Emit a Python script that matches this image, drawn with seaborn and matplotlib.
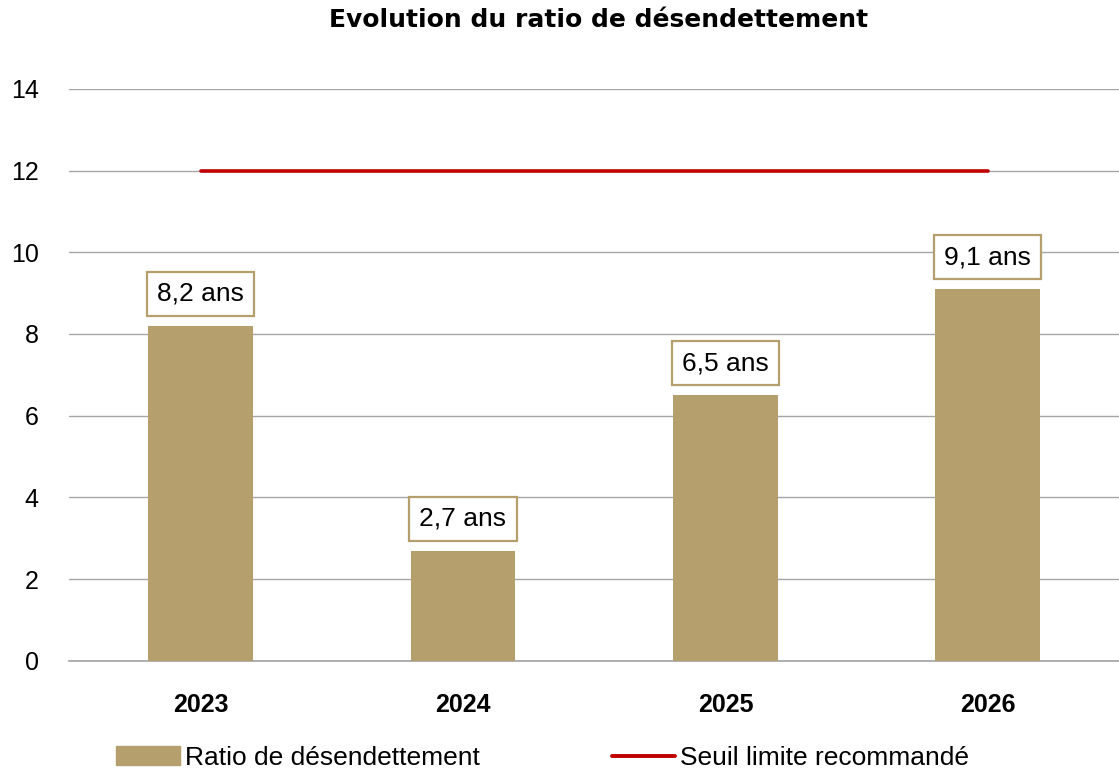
import pandas as pd
import matplotlib
import matplotlib.pyplot as plt
import seaborn as sns
from matplotlib.lines import Line2D
from matplotlib.patches import Patch
matplotlib.use('Agg')

# Données du graphique
annees = ['2023', '2024', '2025', '2026']
ratio = [8.2, 2.7, 6.5, 9.1]
seuil = [12, 12, 12, 12]
etiquettes = ['8,2 ans', '2,7 ans', '6,5 ans', '9,1 ans']

df = pd.DataFrame({'Annee': annees, 'Ratio': ratio, 'Seuil': seuil})

or_couleur = '#B5A06D'
rouge = '#C00000'

sns.set_theme(style='white')
plt.rcParams['font.family'] = ['Liberation Sans', 'DejaVu Sans']
plt.rcParams['text.color'] = 'black'
plt.rcParams['xtick.color'] = 'black'
plt.rcParams['ytick.color'] = 'black'

fig = plt.figure(figsize=(11.19, 7.72), dpi=100)
ax = fig.add_axes([0.062, 0.144, 0.938, 0.741])

sns.barplot(data=df, x='Annee', y='Ratio', color=or_couleur, width=0.4,
            saturation=1, linewidth=0, edgecolor='none', ax=ax, zorder=3)
ax.plot(range(len(annees)), df['Seuil'], color=rouge, lw=2.6, zorder=4)

# Etiquettes encadrées au-dessus des barres
for i, (v, txt) in enumerate(zip(ratio, etiquettes)):
    ax.annotate(txt, (i, v), xytext=(0, 23), textcoords='offset points',
                ha='center', va='center', fontsize=19, color='black',
                bbox=dict(boxstyle='square,pad=0.38', fc='white',
                          ec=or_couleur, lw=1.6), zorder=5)

ax.set_xlim(-0.5, 3.5)
ax.set_ylim(0, 14)
ax.set_yticks(range(0, 15, 2))
ax.grid(axis='y', color='#A6A6A6', lw=1, zorder=0)
ax.set_xlabel('')
ax.set_ylabel('')
for s in ['top', 'right', 'left']:
    ax.spines[s].set_visible(False)
ax.spines['bottom'].set_color('#A6A6A6')
ax.tick_params(axis='both', length=0)
ax.tick_params(axis='y', labelsize=18, pad=22)
ax.tick_params(axis='x', labelsize=18, pad=23)
for lab in ax.get_xticklabels():
    lab.set_fontweight('bold')

fig.suptitle('Evolution du ratio de désendettement', x=0.535, y=0.99,
             fontsize=18, fontweight='bold', family='DejaVu Sans')

handles = [Patch(color=or_couleur, label='Ratio de désendettement'),
           Line2D([0], [0], color=rouge, lw=2.8, label='Seuil limite recommandé')]
fig.legend(handles=handles, loc='lower center', bbox_to_anchor=(0.485, -0.028),
           ncol=2, frameon=False, fontsize=19, columnspacing=5,
           handlelength=2.4, handletextpad=0.2)

fig.savefig('out.png', dpi=100)
